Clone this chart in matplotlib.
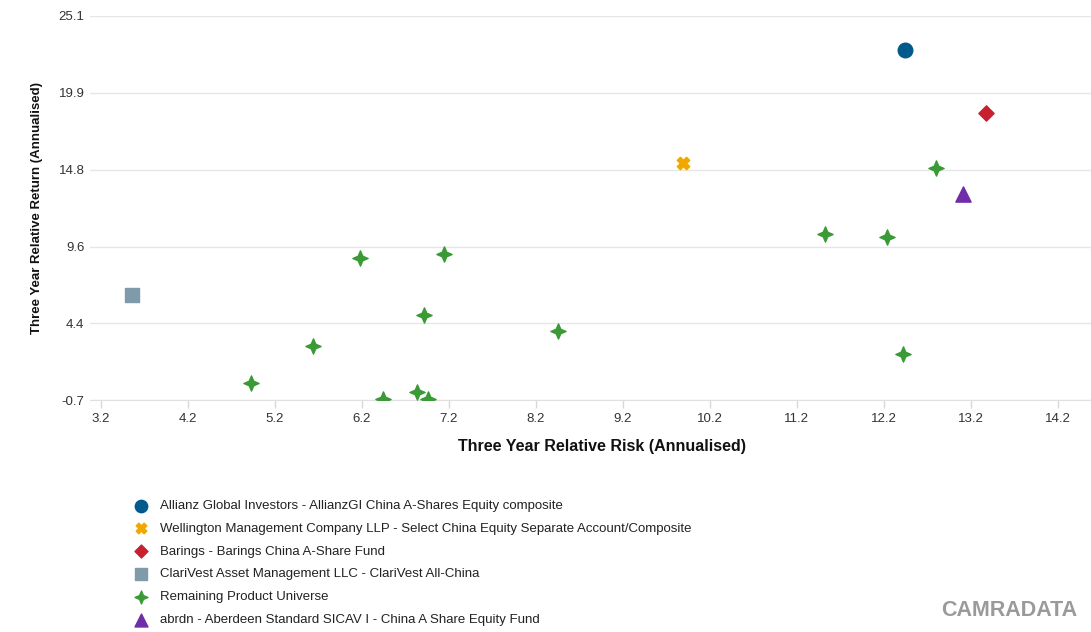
import numpy as np
import matplotlib.pyplot as plt
from matplotlib.path import Path

plt.rcParams["font.family"] = ["Liberation Sans", "DejaVu Sans"]

# ── Data (risk, return) ─────────────────────────────────────────────────
allianz_x, allianz_y = [12.44], [22.79]
wellington_x, wellington_y = [9.89], [15.23]
barings_x, barings_y = [13.37], [18.56]
clarivest_x, clarivest_y = [3.56], [6.38]
universe_x = [4.93, 5.64, 6.18, 6.44, 6.83, 6.96, 6.92, 7.15, 8.45,
              11.52, 12.23, 12.42, 12.80]
universe_y = [0.44, 2.95, 8.84, -0.63, -0.17, -0.58, 5.05, 9.12, 3.93,
              10.48, 10.26, 2.41, 14.87]
abrdn_x, abrdn_y = [13.11], [13.18]

labels = [
    "Allianz Global Investors - AllianzGI China A-Shares Equity composite",
    "Wellington Management Company LLP - Select China Equity Separate Account/Composite",
    "Barings - Barings China A-Share Fund",
    "ClariVest Asset Management LLC - ClariVest All-China",
    "Remaining Product Universe",
    "abrdn - Aberdeen Standard SICAV I - China A Share Equity Fund",
]

x_ticks = [3.2, 4.2, 5.2, 6.2, 7.2, 8.2, 9.2, 10.2, 11.2, 12.2, 13.2, 14.2]
y_min, y_max = -0.7, 25.1
y_tick_labels = ["-0.7", "4.4", "9.6", "14.8", "19.9", "25.1"]

# four-pointed star marker
STAR4 = Path([(0, 1), (0.3, 0.3), (1, 0), (0.3, -0.3), (0, -1),
              (-0.3, -0.3), (-1, 0), (-0.3, 0.3), (0, 1)],
             [Path.MOVETO] + [Path.LINETO] * 7 + [Path.CLOSEPOLY])

fig = plt.figure(figsize=(10.91, 6.32), dpi=100)
fig.patch.set_facecolor("white")
ax = fig.add_axes([90 / 1091, 1 - 400.3 / 632, 1 - 90 / 1091, (400.3 - 16) / 632])

ax.scatter(allianz_x, allianz_y, marker="o", s=110, color="#005a8c",
           label=labels[0], zorder=3)
ax.scatter(wellington_x, wellington_y, marker="X", s=80, color="#f0a800",
           label=labels[1], zorder=3)
ax.scatter(barings_x, barings_y, marker="D", s=60, color="#c8202f",
           label=labels[2], zorder=3)
ax.scatter(clarivest_x, clarivest_y, marker="s", s=105, color="#7f9aa8",
           label=labels[3], zorder=3)
ax.scatter(universe_x, universe_y, marker=STAR4, s=120, color="#3a9a35",
           label=labels[4], zorder=3)
ax.scatter(abrdn_x, abrdn_y, marker="^", s=120, color="#6f2da8",
           label=labels[5], zorder=3)

ax.set_xlim(3.077, 14.58)
ax.set_ylim(y_min, y_max)
ax.set_xticks(x_ticks)
ax.set_xticklabels([f"{v:.1f}" for v in x_ticks])
ax.set_yticks(np.linspace(y_min, y_max, 6))
ax.set_yticklabels(y_tick_labels)

for s in ["top", "right", "left"]:
    ax.spines[s].set_visible(False)
ax.spines["bottom"].set_color("#e0e0e0")
ax.grid(axis="y", color="#e6e6e6", linewidth=1)
ax.set_axisbelow(True)
ax.tick_params(axis="x", colors="#d8d8d8", length=6, width=1, pad=3,
               labelcolor="#333333", labelsize=9.5)
ax.tick_params(axis="y", length=0, pad=4, labelcolor="#333333", labelsize=9.5)

ax.set_xlabel("Three Year Relative Risk (Annualised)", fontsize=11.5,
              fontweight="bold", color="#111111")
ax.xaxis.set_label_coords((602 - 90) / (1091 - 90), -(447 - 400.3) / (400.3 - 16),
                          transform=ax.transAxes)
ax.xaxis.label.set_va("center")
ax.set_ylabel("Three Year Relative Return (Annualised)", fontsize=9.5,
              fontweight="bold", color="#111111")
ax.yaxis.set_label_coords(-(90 - 37) / (1091 - 90), 0.5, transform=ax.transAxes)
ax.yaxis.label.set_va("center")

fig.legend(loc="upper left", bbox_to_anchor=(116 / 1091, 1 - 488 / 632),
           frameon=False, fontsize=9.5, labelspacing=0.8,
           handletextpad=0.4, scatterpoints=1, markerscale=0.85,
           labelcolor="#222222")

fig.text(1077 / 1091, 1 - 611 / 632, "CAMRADATA", ha="right", va="center",
         fontsize=15.5, fontweight="bold", color="#9a9a9a")

fig.savefig("out.png", dpi=100, facecolor="white")
